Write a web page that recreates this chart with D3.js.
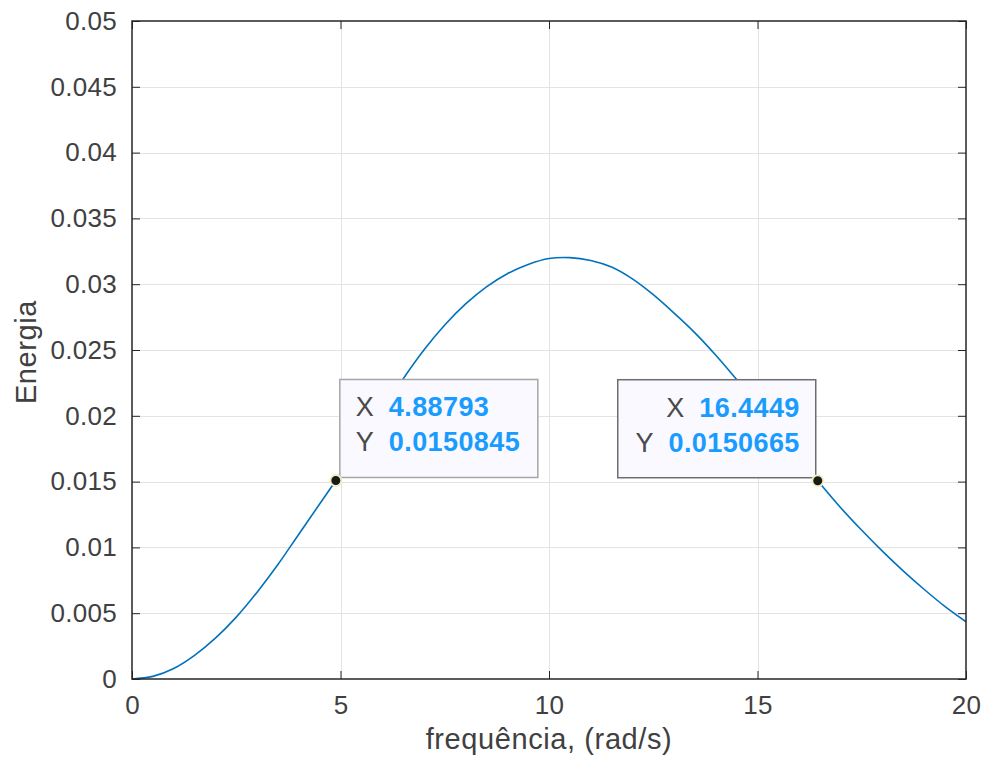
<!DOCTYPE html>
<html>
<head>
<meta charset="utf-8">
<script src="https://cdn.jsdelivr.net/npm/d3@7"></script>
<style>
  html, body { margin: 0; padding: 0; background: #ffffff; }
  svg { display: block; font-family: Arial, "Liberation Sans", Helvetica, sans-serif; }
</style>
</head>
<body>
<svg id="chart" width="987" height="763"></svg>
<script>
// Energy spectrum sampled over frequency (rad/s)
const freq = [0, 0.5, 1.0, 1.5, 2.0, 2.5, 3.0, 3.5, 4.0, 4.5, 4.88793, 5.5, 6.0, 6.5, 7.0, 7.5, 8.0, 8.5, 9.0, 9.5, 10.0, 10.5, 11.0, 11.5, 12.0, 12.5, 13.0, 13.5, 14.0, 14.5, 15.0, 15.5, 16.0, 16.4449, 17.0, 17.5, 18.0, 18.5, 19.0, 19.5, 20.0];
const energy = [0, 0.0002, 0.0008, 0.0018, 0.0031, 0.0047, 0.0066, 0.0087, 0.0110, 0.0133, 0.0150845, 0.0180, 0.0204, 0.0228, 0.0250, 0.0269, 0.0285, 0.0298, 0.0308, 0.0315, 0.03195, 0.03202, 0.0318, 0.0313, 0.0304, 0.0292, 0.0278, 0.0263, 0.0246, 0.02275, 0.0208, 0.0188, 0.0168, 0.0150665, 0.0130, 0.0113, 0.0097, 0.0082, 0.0068, 0.0055, 0.00435];

// Axis ticks
const xTicks = [0, 5, 10, 15, 20];
const xTickLabels = ["0", "5", "10", "15", "20"];
const yTicks = [0, 0.005, 0.01, 0.015, 0.02, 0.025, 0.03, 0.035, 0.04, 0.045, 0.05];
const yTickLabels = ["0", "0.005", "0.01", "0.015", "0.02", "0.025", "0.03", "0.035", "0.04", "0.045", "0.05"];

// Data tips
const tipX = [4.88793, 16.4449];
const tipY = [0.0150845, 0.0150665];
const tipXText = ["4.88793", "16.4449"];
const tipYText = ["0.0150845", "0.0150665"];
const tipAlign = ["left", "right"];

const xLabel = "frequência, (rad/s)";
const yLabel = "Energia";

const svg = d3.select("#chart");
const plot = { left: 132, right: 966, top: 21, bottom: 679 };

const x = d3.scaleLinear().domain([0, 20]).range([plot.left, plot.right]);
const y = d3.scaleLinear().domain([0, 0.05]).range([plot.bottom, plot.top]);

const axisColor = "#262626";
const textColor = "#404040";
const tickLen = 8;

// grid
const grid = svg.append("g").attr("stroke", "#e3e3e3").attr("stroke-width", 1);
grid.selectAll("line.gx").data(xTicks.slice(1, -1)).enter().append("line")
  .attr("x1", d => Math.round(x(d)) + 0.5).attr("x2", d => Math.round(x(d)) + 0.5)
  .attr("y1", plot.top).attr("y2", plot.bottom);
grid.selectAll("line.gy").data(yTicks.slice(1, -1)).enter().append("line")
  .attr("y1", d => Math.round(y(d)) + 0.5).attr("y2", d => Math.round(y(d)) + 0.5)
  .attr("x1", plot.left).attr("x2", plot.right);

// curve
const pts = freq.map((f, i) => [f, energy[i]]);
svg.append("path")
  .datum(pts)
  .attr("fill", "none")
  .attr("stroke", "#0072BD")
  .attr("stroke-width", 1.6)
  .attr("d", d3.line().x(d => x(d[0])).y(d => y(d[1])).curve(d3.curveCatmullRom.alpha(0.5)));

// axes with inward ticks
function styleAxis(g) {
  g.select(".domain").remove();
  g.selectAll(".tick line").attr("stroke", axisColor).attr("stroke-width", 1);
  g.selectAll(".tick text").attr("fill", textColor).attr("font-size", 26).attr("letter-spacing", 0.3);
}
svg.append("g").attr("transform", `translate(0,${plot.bottom})`)
  .call(d3.axisBottom(x).tickValues(xTicks).tickFormat((d, i) => xTickLabels[i]).tickSizeInner(-tickLen).tickSizeOuter(0).tickPadding(17))
  .call(styleAxis);
svg.append("g").attr("transform", `translate(0,${plot.top})`)
  .call(d3.axisTop(x).tickValues(xTicks).tickFormat("").tickSizeInner(-tickLen).tickSizeOuter(0))
  .call(styleAxis);
svg.append("g").attr("transform", `translate(${plot.left},0)`)
  .call(d3.axisLeft(y).tickValues(yTicks).tickFormat((d, i) => yTickLabels[i]).tickSizeInner(-tickLen).tickSizeOuter(0).tickPadding(15))
  .call(styleAxis);
svg.append("g").attr("transform", `translate(${plot.right},0)`)
  .call(d3.axisRight(y).tickValues(yTicks).tickFormat("").tickSizeInner(-tickLen).tickSizeOuter(0))
  .call(styleAxis);

// frame
svg.append("rect")
  .attr("x", plot.left).attr("y", plot.top)
  .attr("width", plot.right - plot.left).attr("height", plot.bottom - plot.top)
  .attr("fill", "none").attr("stroke", axisColor).attr("stroke-width", 1.5);

// axis labels
svg.append("text")
  .attr("x", (plot.left + plot.right) / 2).attr("y", 749)
  .attr("text-anchor", "middle").attr("font-size", 29).attr("letter-spacing", 0.6).attr("fill", textColor)
  .text(xLabel);
svg.append("text")
  .attr("transform", `translate(36,${(plot.top + plot.bottom) / 2 + 2}) rotate(-90)`)
  .attr("text-anchor", "middle").attr("font-size", 29).attr("letter-spacing", 0.6).attr("fill", textColor)
  .text(yLabel);

// data tips
const boxW = 198, boxH = 98, gap = 15;
tipX.forEach((tx, i) => {
  const px = x(tx), py = y(tipY[i]);
  const left = tipAlign[i] === "left" ? px + 4 : px - 2 - boxW;
  const top = py - 3 - boxH;
  const g = svg.append("g");
  g.append("rect")
    .attr("x", left).attr("y", top).attr("width", boxW).attr("height", boxH)
    .attr("fill", "#f9f9ff")
    .attr("stroke", tipAlign[i] === "left" ? "#a6a6a6" : "#6e6e6e")
    .attr("stroke-width", 1.5);
  const rows = [["X", tipXText[i], top + 37], ["Y", tipYText[i], top + 72]];
  rows.forEach(([lab, val, base]) => {
    const lt = g.append("text").attr("y", base).attr("font-size", 27).attr("fill", "#4a4a4a").text(lab);
    const vt = g.append("text").attr("y", base).attr("font-size", 27).attr("letter-spacing", 0.4)
      .attr("font-weight", "bold").attr("fill", "#1a9cff").text(val);
    if (tipAlign[i] === "left") {
      const x0 = left + 16;
      lt.attr("x", x0);
      vt.attr("x", x0 + lt.node().getComputedTextLength() + gap);
    } else {
      const xr = left + boxW - 16;
      vt.attr("x", xr).attr("text-anchor", "end");
      lt.attr("x", xr - vt.node().getComputedTextLength() - gap).attr("text-anchor", "end");
    }
  });
  g.append("circle")
    .attr("cx", px).attr("cy", py).attr("r", 5.5)
    .attr("fill", "#1a1a1a").attr("stroke", "#f2eec0").attr("stroke-width", 2);
});
</script>
</body>
</html>
